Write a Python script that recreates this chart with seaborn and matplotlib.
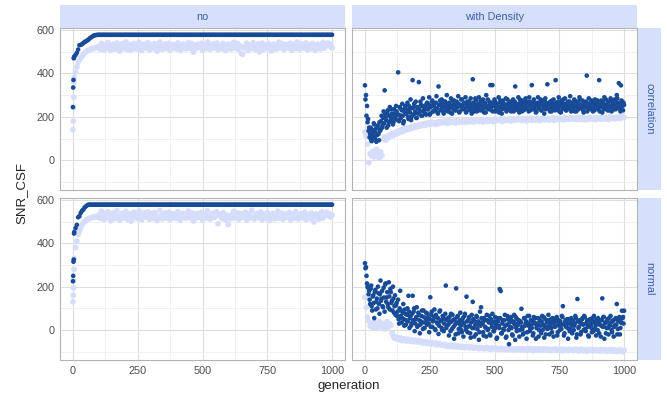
import numpy as np
import pandas as pd
import matplotlib
matplotlib.use("Agg")
import matplotlib.pyplot as plt
from matplotlib.patches import Rectangle
from matplotlib.ticker import MultipleLocator
import seaborn as sns

DARK = "#174b97"
LIGHT = "#d5ddfb"
STRIP_FILL = "#d6dffc"
STRIP_TEXT = "#3d5eab"

DENSITY = ["no", "with Density"]
DIST = ["correlation", "normal"]

GEN_NO = [0, 1, 2, 3, 4] + list(range(5, 1001, 5))
GEN_WD_BEST = list(range(0, 1001, 4))
GEN_WD_BEST_B = list(range(2, 1001, 4))
GEN_WD_MEAN = list(range(0, 1001, 5))

# --- panel "no" / "correlation" ---
no_corr_best = [
    245, 335, 370, 470, 472,
    478, 485, 495, 510, 530, 532, 535, 540, 545, 548, 552, 556, 562, 566, 570, 574, 576, 577, 578,
    578, 578, 578, 578, 578, 578, 578, 578, 578, 578, 578, 578, 578, 578, 578, 578, 578, 578, 578, 578,
    578, 578, 578, 578, 578, 578, 578, 578, 578, 578, 578, 578, 578, 578, 578, 578, 578, 578, 578, 578,
    578, 578, 578, 578, 578, 578, 578, 578, 578, 578, 578, 578, 578, 578, 578, 578, 578, 578, 578, 578,
    578, 578, 578, 578, 578, 578, 578, 578, 578, 578, 578, 578, 578, 578, 578, 578, 578, 578, 578, 578,
    578, 578, 578, 578, 578, 578, 578, 578, 578, 578, 578, 578, 578, 578, 578, 578, 578, 578, 578, 578,
    578, 578, 578, 578, 578, 578, 578, 578, 578, 578, 578, 578, 578, 578, 578, 578, 578, 578, 578, 578,
    578, 578, 578, 578, 578, 578, 578, 578, 578, 578, 578, 578, 578, 578, 578, 578, 578, 578, 578, 578,
    578, 578, 578, 578, 578, 578, 578, 578, 578, 578, 578, 578, 578, 578, 578, 578, 578, 578, 578, 578,
    578, 578, 578, 578, 578, 578, 578, 578, 578, 578, 578, 578, 578, 578, 578, 578, 578, 578, 578, 578,
    578,
]
no_corr_mean = [
    140, 180, 240, 290, 360,
    380, 405, 430, 450, 462, 472, 480, 488, 495, 500, 503, 508, 510, 512, 515, 516, 518, 520, 520,
    525, 512, 538, 520, 508, 531, 515, 542, 519, 506, 528, 534, 511, 523, 540, 517, 503, 529, 536, 514,
    522, 545, 510, 526, 533, 507, 519, 538, 521, 512, 530, 543, 516, 505, 527, 535, 518, 524, 541, 509,
    520, 532, 514, 537, 526, 502, 518, 544, 523, 511, 529, 536, 515, 521, 539, 508, 525, 533, 517, 530,
    512, 540, 522, 506, 528, 535, 519, 513, 531, 542, 516, 524, 537, 498, 510, 527, 534, 518, 521, 539,
    507, 526, 532, 515, 544, 520, 511, 529, 536, 517, 523, 540, 509, 525, 531, 514, 538, 522, 505, 528,
    535, 519, 512, 530, 543, 516, 524, 537, 510, 527, 491, 488, 518, 521, 539, 506, 526, 532, 515, 541,
    520, 511, 529, 536, 500, 523, 540, 509, 525, 531, 514, 538, 522, 504, 528, 535, 519, 512, 530, 544,
    516, 524, 537, 510, 527, 533, 518, 521, 539, 507, 526, 532, 515, 545, 520, 511, 529, 536, 517, 523,
    540, 509, 525, 531, 514, 538, 522, 506, 528, 535, 519, 512, 530, 543, 516, 524, 537, 540, 527, 535, 518,
]

# --- panel "no" / "normal" ---
no_norm_best = [
    225, 250, 315, 325, 445,
    452, 470, 485, 520, 525, 540, 550, 555, 565, 570, 575,
    578, 578, 578, 578, 578, 578, 578, 578, 578, 578, 578, 578, 578, 578, 578, 578, 578, 578, 578, 578,
    578, 578, 578, 578, 578, 578, 578, 578, 578, 578, 578, 578, 578, 578, 578, 578, 578, 578, 578, 578,
    578, 578, 578, 578, 578, 578, 578, 578, 578, 578, 578, 578, 578, 578, 578, 578, 578, 578, 578, 578,
    578, 578, 578, 578, 578, 578, 578, 578, 578, 578, 578, 578, 578, 578, 578, 578, 578, 578, 578, 578,
    578, 578, 578, 578, 578, 578, 578, 578, 578, 578, 578, 578, 578, 578, 578, 578, 578, 578, 578, 578,
    578, 578, 578, 578, 578, 578, 578, 578, 578, 578, 578, 578, 578, 578, 578, 578, 578, 578, 578, 578,
    578, 578, 578, 578, 578, 578, 578, 578, 578, 578, 578, 578, 578, 578, 578, 578, 578, 578, 578, 578,
    578, 578, 578, 578, 578, 578, 578, 578, 578, 578, 578, 578, 578, 578, 578, 578, 578, 578, 578, 578,
    578, 578, 578, 578, 578, 578, 578, 578, 578, 578, 578, 578, 578, 578, 578, 578, 578, 578, 578, 578,
    578, 578, 578, 578, 578, 578, 578, 578, 578,
]
no_norm_mean = [
    130, 160, 195, 230, 280,
    330, 380, 410, 440, 455, 470, 485, 495, 500, 505, 510, 512, 515, 518, 520, 518, 522, 520, 524,
    530, 515, 548, 522, 509, 536, 519, 545, 527, 504, 533, 540, 513, 525, 550, 518, 507, 531, 538, 516,
    524, 547, 511, 529, 535, 502, 521, 543, 526, 514, 532, 549, 517, 508, 530, 541, 520, 527, 545, 510,
    523, 537, 515, 542, 528, 505, 519, 551, 525, 512, 534, 539, 516, 522, 544, 509, 528, 536, 518, 533,
    514, 546, 524, 507, 530, 538, 521, 515, 535, 548, 517, 526, 540, 503, 512, 529, 537, 519, 524, 542,
    508, 528, 535, 516, 549, 521, 512, 532, 539, 518, 526, 545, 490, 527, 534, 515, 541, 523, 506, 530,
    486, 520, 513, 533, 547, 517, 525, 540, 511, 529, 536, 519, 522, 543, 507, 527, 535, 516, 552, 521,
    512, 531, 538, 518, 524, 544, 509, 526, 533, 514, 541, 522, 505, 529, 537, 520, 513, 534, 548, 516,
    525, 539, 510, 528, 535, 519, 523, 542, 508, 527, 534, 515, 546, 521, 512, 530, 537, 517, 524, 543,
    509, 526, 532, 514, 540, 522, 498, 529, 536, 519, 512, 531, 545, 516, 525, 538, 544, 528, 536, 520, 530,
]

# --- panel "with Density" / "correlation" ---
wd_corr_best = [
    345, 300, 250, 190, 150, 120, 95, 140, 110, 165, 130, 85, 150, 120, 175, 140, 205, 160, 225, 322,
    200, 150, 230, 175, 245, 190, 215, 165, 235, 195, 250, 210, 405, 180, 240, 205, 260, 170, 225, 250,
    215, 265, 190, 235, 280, 200, 369, 245, 215, 270, 195, 240, 360, 225, 255, 205, 285, 230, 250, 210,
    265, 235, 290, 215, 250, 275, 225, 260, 240, 295, 220, 340, 255, 230, 280, 245, 215, 270, 250, 300,
    225, 260, 240, 285, 215, 255, 275, 230, 265, 245, 295, 220, 250, 280, 235, 260, 240, 290, 225, 270,
    250, 235, 285, 215, 373, 260, 240, 275, 225, 255, 290, 230, 265, 245, 280, 220, 260, 300, 240, 250,
    270, 346, 230, 346, 255, 280, 225, 260, 245, 290, 235, 265, 215, 275, 250, 240, 285, 230, 260, 245,
    270, 225, 255, 280, 235, 340, 260, 245, 290, 220, 265, 250, 275, 230, 255, 285, 240, 265, 225, 270,
    250, 346, 235, 280, 260, 220, 255, 290, 240, 265, 230, 275, 250, 215, 285, 245, 350, 260, 235, 270,
    225, 255, 280, 245, 369, 265, 235, 290, 250, 220, 275, 260, 240, 285, 230, 255, 270, 245, 295, 225,
    260, 240, 280, 250, 225, 270, 235, 290, 255, 245, 275, 220, 265, 250, 390, 235, 285, 260, 240, 270,
    225, 255, 280, 245, 265, 235, 369, 250, 275, 220, 260, 290, 240, 255, 230, 270, 245, 285, 225, 260,
    250, 280, 235, 300, 265, 355, 240, 345, 270, 230, 255,
]
wd_corr_best_b = [
    280, 205, 175, 135, 105, 150, 88, 125, 170, 100, 145, 115, 160, 92, 135, 180, 150, 195, 170, 210,
    185, 220, 160, 205, 180, 235, 200, 175, 215, 190, 225, 185, 210, 245, 195, 230, 205, 180, 240, 215,
    230, 200, 250, 220, 185, 240, 210, 260, 225, 195, 245, 215, 235, 270, 205, 250, 225, 240, 215, 260,
    235, 255, 210, 245, 270, 225, 250, 230, 265, 240, 215, 255, 275, 235, 260, 225, 245, 270, 230, 255,
    240, 265, 220, 250, 275, 235, 255, 230, 270, 245, 260, 225, 250, 280, 240, 235, 265, 220, 255, 245,
    270, 230, 255, 240, 265, 225, 285, 250, 235, 260, 245, 275, 230, 255, 240, 265, 220, 250, 280, 235,
    255, 240, 265, 225, 250, 270, 235, 260, 245, 220, 275, 250, 235, 265, 240, 255, 225, 280, 245, 260,
    235, 265, 250, 225, 270, 245, 255, 230, 260, 280, 240, 225, 265, 250, 235, 270, 245, 255, 290, 230,
    260, 245, 270, 235, 250, 225, 265, 240, 255, 280, 230, 260, 245, 270, 235, 255, 240, 265, 225, 250,
    275, 240, 260, 230, 255, 245, 270, 225, 250, 265, 235, 280, 245, 260, 230, 255, 240, 270, 250, 235,
    265, 245, 225, 270, 250, 235, 260, 280, 240, 255, 230, 265, 245, 270, 225, 250, 260, 235, 275, 245,
    255, 230, 265, 240, 275, 250, 225, 260, 245, 270, 235, 255, 280, 240, 265, 230, 250, 275, 245, 260,
    235, 270, 250, 285, 240, 260, 225, 275, 250, 265,
]
wd_corr_mean = [
    130, 110, 75, -12, 30, 20, 40, 15, 35, 50, 25, 10, 38, 22, 98, 105, 92, 110, 102, 115,
    120, 112, 125, 118, 130, 122, 135, 128, 140, 132, 145, 138, 148, 142, 150, 145, 155, 148, 158, 152,
    160, 155, 165, 158, 162, 168, 160, 170, 164, 172, 166, 170, 175, 168, 172, 165, 176, 170, 178, 172,
    175, 180, 172, 178, 170, 182, 176, 174, 180, 177, 172, 183, 178, 175, 181, 176, 179, 185, 174, 180,
    182, 177, 185, 179, 176, 184, 180, 186, 178, 183, 181, 176, 187, 182, 179, 185, 180, 188, 183, 178,
    185, 190, 182, 187, 184, 191, 179, 186, 189, 183, 188, 185, 192, 180, 187, 190, 184, 189, 186, 193,
    188, 183, 190, 186, 192, 181, 189, 187, 194, 184, 190, 188, 185, 193, 189, 182, 191, 187, 195, 186,
    190, 193, 185, 192, 188, 196, 184, 191, 189, 194, 187, 192, 190, 186, 197, 189, 193, 188, 191, 195,
    189, 194, 192, 187, 196, 190, 193, 188, 197, 191, 186, 195, 192, 189, 198, 193, 190, 194, 187, 196,
    192, 195, 189, 198, 193, 190, 196, 194, 188, 199, 192, 197, 195, 191, 198, 194, 200, 193, 196, 202,
    197,
]

# --- panel "with Density" / "normal" ---
wd_norm_best = [
    308, 290, 215, 195, 180, 120, 205, 90, 160, 55, 185, 130, 100, 170, 75, 228, 145, 110, 195, 85,
    215, 150, 120, 220, 95, 175, 135, 200, 80, 160, 115, 65, 140, 30, 181, 90, 55, 120, 20, 75,
    45, 100, 158, 10, 65, 30, 158, 85, -5, 50, 105, 20, 70, -15, 40, 90, 5, 60, 35, 80,
    25, 55, -10, 151, 70, 15, 45, 95, 0, 60, 30, -18, 85, 40, 10, 65, -5, 50, 205, 20,
    55, -25, 35, 75, 5, 45, -40, 25, 192, 60, -15, 30, 80, 0, 40, -30, 65, 15, 154, -10,
    50, 20, -35, 70, 130, 10, 40, -20, 60, 25, -45, 85, 105, 35, -10, 55, 15, -30, 45, 5,
    65, -25, 30, 75, -5, 40, 10, -40, 55, 20, 189, 180, -15, 45, 0, 70, -35, 25, 50, -65,
    15, 60, -20, 35, 70, -45, 10, 50, 25, -30, 40, 98, 5, -15, 55, 30, -40, 65, 20, -5,
    45, 10, -25, 60, 30, -40, 20, 55, 0, 40, -15, 65, 25, -35, 50, 15, 5, 70, -20, 35,
    10, 55, -30, 40, 20, 60, -10, 45, 0, 25, 65, 110, -25, 35, 15, 50, -40, 30, 5, 55,
    -15, 40, 20, 65, -35, 143, 10, 45, -20, 30, 55, 0, 60, -5, 35, 15, -30, 50, 25, -10,
    40, 65, 5, -25, 30, 55, -15, 45, 20, 146, 60, -40, 35, 10, 50, -20, 25, 65, 0, 40,
    -30, 20, 55, 120, 5, 45, -20, 35, 89, 60, 89,
]
wd_norm_best_b = [
    285, 250, 200, 165, 140, 190, 110, 155, 125, 175, 95, 145, 200, 120, 165, 135, 180, 105, 150, 210,
    130, 175, 105, 155, 190, 125, 90, 145, 110, 70, 125, 85, 50, 100, 65, 35, 80, 50, 95, 25,
    70, 40, 85, 55, 20, 75, 45, 100, 30, 60, 15, 80, 45, 25, 65, 35, 90, 10, 55, 40,
    75, 30, 50, 15, 85, 40, 60, 5, 70, 35, 55, 20, 90, 45, 0, 60, 30, 75, 10, 45,
    25, 60, -5, 40, 70, 15, 50, -20, 35, 65, 5, 45, 20, -10, 55, 30, 75, 0, 40, 15,
    60, -15, 35, 10, 50, -30, 25, 65, 5, 40, -10, 20, 55, 30, -25, 45, 10, 70, 0, 35,
    -20, 50, 15, 35, -5, 60, 25, -35, 40, 10, 55, -15, 30, 5, 45, 20, -30, 65, 0, 35,
    50, 10, -25, 40, 25, 60, -5, 30, 45, 0, 35, 15, -20, 55, 20, 40, -10, 30, 65, 5,
    25, 45, -15, 35, 55, 10, 30, -30, 50, 20, 40, 0, 60, 15, -20, 35, 45, 10, 25, 50,
    -10, 30, 45, 15, 55, -25, 35, 20, 40, 5, 60, 25, -15, 45, 30, 10, 50, -5, 35, 20,
    45, 0, 30, 55, -20, 40, 15, 35, -10, 50, 25, 65, 5, 30, 45, -25, 20, 40, 10, 55,
    -5, 35, 20, 50, 0, 40, 25, -30, 45, 15, 60, 30, -15, 40, 10, 55, 20, 35, -10, 45,
    15, 50, 25, -20, 40, 60, 10, 35, 55, 30,
]
wd_norm_mean = [
    150, 105, 60, 40, 18, 30, 12, 35, 22, 8, 28, 40, 15, 32, 20, 5, 26, 38, 14, 30,
    22, -15, -30, -38, -32, -42, -36, -45, -38, -48, -40, -44, -50, -42, -47, -52, -45, -49, -54, -46,
    -50, -55, -48, -57, -52, -60, -54, -58, -62, -55, -60, -64, -58, -62, -66, -60, -68, -63, -65, -70,
    -66, -70, -73, -68, -72, -75, -70, -74, -77, -71, -76, -73, -78, -74, -79, -75, -77, -81, -76, -79,
    -78, -82, -77, -80, -84, -79, -83, -81, -86, -80, -84, -82, -87, -83, -80, -86, -84, -88, -82, -85,
    -86, -83, -88, -85, -90, -84, -87, -89, -85, -91, -86, -88, -84, -90, -87, -92, -86, -89, -91, -85,
    -88, -92, -86, -90, -87, -93, -89, -85, -91, -88, -94, -87, -90, -92, -86, -89, -93, -88, -91, -87,
    -90, -93, -88, -92, -95, -89, -91, -87, -94, -90, -92, -88, -96, -91, -89, -93, -90, -95, -88, -92,
    -91, -94, -89, -93, -90, -96, -92, -88, -95, -91, -93, -97, -90, -94, -92, -89, -96, -93, -91, -95,
    -92, -97, -90, -94, -96, -91, -93, -98, -92, -95, -90, -97, -94, -92, -99, -93, -96, -91, -95, -100,
    -94,
]


def frame(gen, vals, density, dist, series):
    if len(gen) != len(vals):
        raise ValueError(f"{density}/{dist}/{series}: {len(gen)} gens vs {len(vals)} values")
    return pd.DataFrame({"generation": gen, "SNR_CSF": vals,
                         "density": density, "dist": dist, "series": series})


# mean rows first so the dark points are drawn on top
df = pd.concat([
    frame(GEN_NO, no_corr_mean, "no", "correlation", "mean"),
    frame(GEN_NO, no_norm_mean, "no", "normal", "mean"),
    frame(GEN_WD_MEAN, wd_corr_mean, "with Density", "correlation", "mean"),
    frame(GEN_WD_MEAN, wd_norm_mean, "with Density", "normal", "mean"),
    frame(GEN_NO, no_corr_best, "no", "correlation", "best"),
    frame(GEN_NO, no_norm_best, "no", "normal", "best"),
    frame(GEN_WD_BEST, wd_corr_best, "with Density", "correlation", "best"),
    frame(GEN_WD_BEST_B, wd_corr_best_b, "with Density", "correlation", "best"),
    frame(GEN_WD_BEST, wd_norm_best, "with Density", "normal", "best"),
    frame(GEN_WD_BEST_B, wd_norm_best_b, "with Density", "normal", "best"),
], ignore_index=True)

sns.set_style("white")
plt.rcParams["font.family"] = ["Liberation Sans", "DejaVu Sans"]

g = sns.FacetGrid(df, row="dist", col="density", row_order=DIST, col_order=DENSITY,
                  sharex=True, sharey=True, height=2, aspect=1.6, despine=False)
g.map_dataframe(sns.scatterplot, x="generation", y="SNR_CSF", hue="series",
                hue_order=["mean", "best"], palette={"mean": LIGHT, "best": DARK},
                size="series", size_order=["mean", "best"], sizes={"mean": 17, "best": 11},
                linewidth=0, legend=False)

fig = g.figure
fig.set_size_inches(6.67, 4.01)
W, H = 667, 401
fig.subplots_adjust(left=60 / W, right=637 / W, top=1 - 28.3 / H, bottom=1 - 360 / H,
                    wspace=7 / 285, hspace=8 / 162)

for (i, j), ax in np.ndenumerate(g.axes):
    ax.set_title("")
    ax.set_xlabel("")
    ax.set_ylabel("")
    ax.set_xlim(-50, 1050)
    ax.set_ylim(-138, 608)
    ax.set_xticks([0, 250, 500, 750, 1000])
    ax.set_yticks([0, 200, 400, 600])
    ax.xaxis.set_minor_locator(MultipleLocator(125))
    ax.yaxis.set_minor_locator(MultipleLocator(100))
    ax.set_axisbelow(True)
    ax.grid(which="major", color="#dedede", lw=0.8)
    ax.grid(which="minor", color="#ececec", lw=0.5)
    for sp in ax.spines.values():
        sp.set_color("#b3b3b3")
        sp.set_linewidth(0.8)
    ax.tick_params(which="major", labelsize=7.8, labelcolor="#4d4d4d", color="#b3b3b3",
                   length=2.5, width=0.6, pad=1.5)
    ax.tick_params(which="minor", length=0)
    if i == 0:
        ax.tick_params(axis="x", which="major", length=0)
    if j == 1:
        ax.tick_params(axis="y", which="major", length=0)

# strips in ggplot style
strip = 23
for j, name in enumerate(DENSITY):
    bb = g.axes[0, j].get_position()
    h = strip / H
    fig.add_artist(Rectangle((bb.x0, bb.y1), bb.width, h, transform=fig.transFigure,
                             facecolor=STRIP_FILL, edgecolor="none"))
    fig.text(bb.x0 + bb.width / 2, bb.y1 + h / 2, name, ha="center", va="center",
             fontsize=7.8, color=STRIP_TEXT)
for i, name in enumerate(DIST):
    bb = g.axes[i, 1].get_position()
    w = strip / W
    fig.add_artist(Rectangle((bb.x1 + 1 / W, bb.y0), w, bb.height, transform=fig.transFigure,
                             facecolor=STRIP_FILL, edgecolor="none"))
    fig.text(bb.x1 + 1 / W + w / 2, bb.y0 + bb.height / 2, name, ha="center", va="center",
             rotation=270, fontsize=7.8, color=STRIP_TEXT)

fig.text(349 / W, 1 - 386 / H, "generation", ha="center", va="center", fontsize=9.5)
fig.text(22 / W, 1 - 193 / H, "SNR_CSF", ha="center", va="center", rotation=90, fontsize=9.5)

fig.savefig("out.png", dpi=100)
plt.close(fig)
